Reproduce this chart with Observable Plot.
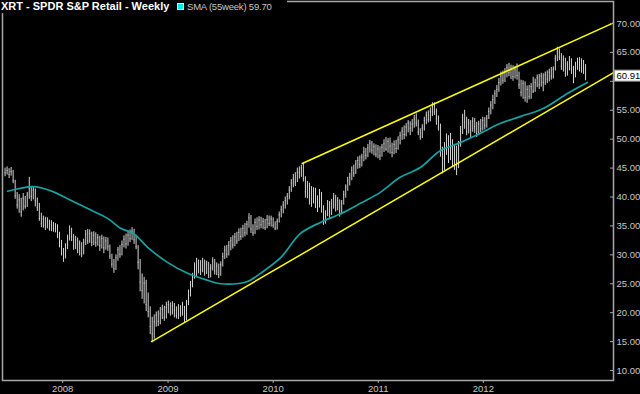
<!DOCTYPE html>
<html><head><meta charset="utf-8">
<script src="https://cdn.jsdelivr.net/npm/d3@7"></script>
<script src="https://cdn.jsdelivr.net/npm/@observablehq/plot@0.6"></script>
<style>
html,body{margin:0;padding:0;background:#000;}
#wrap{position:relative;width:640px;height:394px;background:#000;overflow:hidden;}
#hdr{position:absolute;left:0;top:0;width:287px;height:13px;background:#000;font-family:"Liberation Sans",Arial,sans-serif;white-space:nowrap;}
#title{position:absolute;left:1px;top:0;font-weight:bold;font-size:11px;line-height:13px;color:#fff;}
#leg{position:absolute;left:177px;top:0;font-size:9.5px;line-height:13px;color:#c8c8c8;letter-spacing:-0.2px;}
#leg .sw{display:inline-block;width:5px;height:5px;background:#00e8e8;border:1px solid #aaffff;margin-right:3px;vertical-align:0px;}
</style></head>
<body>
<div id="wrap">
  <div id="hdr"><span id="title"></span><span id="leg"><span class="sw"></span><span id="legtxt"></span></span></div>
</div>
<script>
const titleText = "XRT - SPDR S&P Retail - Weekly";
const smaLabel = "SMA (55week)";
const smaLast = 59.70;
const lastClose = 60.91;
const firstWeek = "2007-06-15";

const high = [
45.0,45.2,44.9,45.1,44.6,42.9,40.8,40.4,39.8,40.6,
40.1,40.8,43.4,41.8,41.7,41.4,39.8,38.9,37.2,36.7,
36.5,36.4,36.0,35.9,35.6,35.4,35.2,33.9,32.5,31.1,
31.9,33.4,35.0,34.6,33.5,33.2,32.9,32.4,32.1,32.7,
34.2,34.4,34.3,33.9,34.0,33.8,33.5,33.2,33.4,33.1,
33.0,32.9,31.7,30.1,29.2,30.0,31.3,31.6,32.4,33.3,
33.6,34.0,34.3,34.7,34.4,33.2,31.6,29.2,26.7,26.1,
25.6,23.4,21.0,19.2,19.6,20.1,20.3,20.9,21.3,21.1,
21.8,22.0,21.7,21.9,21.6,21.0,21.4,21.2,21.8,21.1,
22.1,23.9,25.4,26.8,28.6,29.4,29.1,29.0,29.4,29.1,
28.9,28.7,28.3,29.5,29.2,28.6,28.4,28.8,30.3,31.5,
31.6,32.3,33.0,33.3,33.7,33.9,34.5,34.6,35.1,35.4,
35.8,37.1,36.8,35.2,36.2,36.4,36.6,36.5,36.3,36.1,
36.8,36.7,36.7,36.4,35.7,36.2,37.4,38.4,39.2,40.0,
40.6,41.8,43.0,43.9,44.2,45.0,45.2,45.5,45.9,43.5,
42.7,42.4,41.8,41.6,41.5,40.2,41.3,40.8,38.5,37.6,
39.4,39.2,39.6,40.6,40.3,39.9,39.5,39.4,41.0,42.1,
43.4,44.1,45.2,45.5,46.3,46.9,47.1,47.4,48.6,48.4,
49.1,49.8,49.6,49.2,49.0,48.9,48.7,49.1,49.9,50.3,
50.1,50.2,49.3,49.7,49.8,50.4,51.2,52.0,52.3,52.7,
53.2,53.0,53.4,54.1,54.4,53.3,51.8,52.5,53.8,54.7,
54.9,55.4,56.3,56.3,55.2,54.0,52.6,48.6,49.4,50.9,
50.6,51.0,49.9,49.1,48.8,49.6,52.2,54.3,55.0,53.8,
53.4,53.2,53.7,53.6,52.9,53.1,53.4,53.8,53.7,54.1,
55.4,56.5,57.6,58.4,59.3,60.5,61.6,61.8,62.2,62.9,
63.1,62.8,62.7,62.6,63.0,61.6,60.2,60.1,59.9,59.2,
59.3,59.6,60.7,60.4,61.1,61.2,61.4,61.3,61.6,61.8,
62.1,62.4,62.5,64.5,65.9,65.6,64.8,64.4,64.0,63.4,
64.3,63.9,62.6,63.3,64.0,64.1,63.9,63.6,62.9
];
const low = [
43.5,43.8,43.2,43.6,42.3,39.6,37.9,37.2,36.5,37.6,
37.9,38.2,39.6,39.2,39.5,38.3,37.5,35.8,34.7,34.6,
34.2,34.5,34.1,34.0,33.9,33.8,32.8,31.2,29.8,28.7,
29.3,30.9,32.4,32.3,30.8,30.9,30.2,29.8,29.5,30.0,
31.6,31.8,32.0,31.4,31.6,31.3,31.5,30.6,31.0,30.2,
30.8,30.6,29.2,27.7,26.8,27.3,28.9,29.4,29.8,31.2,
31.0,31.5,32.1,32.5,31.8,30.9,27.4,23.6,22.3,21.5,
20.2,19.1,16.2,14.8,15.4,17.5,17.6,17.9,18.8,18.5,
18.9,19.8,19.4,19.6,19.1,18.9,18.8,19.2,19.4,18.3,
18.6,21.2,22.7,24.3,25.8,26.2,26.7,26.4,26.9,26.3,
26.6,25.9,26.0,27.2,26.5,26.4,25.9,26.3,27.9,29.2,
29.4,29.8,30.7,31.0,31.4,31.8,32.3,32.5,32.9,33.1,
33.4,34.6,33.7,33.2,33.5,34.2,34.3,34.5,34.4,34.2,
34.5,34.9,34.8,34.6,34.2,34.3,35.5,36.4,37.1,37.9,
38.6,39.5,40.8,41.6,41.8,42.5,43.1,43.4,42.6,39.8,
39.7,38.6,38.2,38.8,38.0,37.3,38.1,37.2,35.1,35.3,
36.6,36.1,36.8,37.9,37.4,37.6,36.5,36.9,38.6,39.8,
41.0,41.9,42.8,43.4,43.9,44.8,44.9,45.2,46.1,46.4,
46.8,47.6,47.4,47.1,46.8,46.6,46.3,46.9,47.7,47.9,
47.6,47.4,46.8,47.3,47.5,48.1,49.0,49.8,49.9,50.4,
51.1,50.6,51.2,51.9,52.1,50.6,49.8,50.1,51.4,52.5,
52.8,53.0,53.9,54.1,52.4,51.4,46.9,44.0,44.6,47.2,
45.8,46.3,45.1,44.6,43.7,44.9,48.6,50.8,51.7,50.6,
50.9,50.3,51.2,51.0,50.3,50.6,51.1,51.4,51.6,51.9,
53.4,54.2,55.1,56.0,57.2,58.1,59.2,59.5,59.8,60.6,
60.8,60.3,60.0,60.4,60.2,58.6,57.3,56.9,56.4,56.2,
56.8,56.9,57.9,58.1,58.9,58.6,59.0,58.2,59.3,59.6,
59.9,60.2,60.4,61.8,63.4,63.6,61.9,61.6,60.7,60.9,
61.8,61.2,59.6,60.6,61.9,61.6,61.4,61.2,60.1
];
const close = [
44.2,44.6,43.9,44.4,42.8,40.2,38.6,39.5,37.4,39.8,
38.4,40.3,41.5,40.1,41.2,39.4,38.2,36.3,35.4,36.2,
35.1,35.8,34.6,35.2,34.5,34.9,33.6,31.8,30.4,29.6,
31.2,32.8,34.2,33.1,31.5,32.6,30.8,31.9,30.2,32.1,
33.5,32.4,33.7,32.2,33.4,32.1,33.0,31.6,32.8,31.2,
32.4,31.4,29.8,28.4,27.6,29.5,30.9,30.1,31.8,32.7,
31.9,33.4,32.8,34.1,32.6,31.4,28.7,25.3,23.8,25.1,
21.4,20.2,17.6,16.3,18.4,19.6,18.5,19.8,20.6,19.2,
20.9,21.4,20.1,21.2,20.4,19.5,20.8,19.9,21.3,18.9,
21.6,23.2,24.8,26.1,27.9,27.3,28.6,27.4,28.8,27.0,
28.4,26.5,27.7,28.9,27.2,28.1,26.6,28.3,29.7,30.8,
30.1,31.6,32.4,31.7,33.1,32.4,33.9,33.2,34.6,33.8,
35.3,36.4,34.5,33.8,35.6,34.9,36.0,35.2,35.8,34.7,
36.1,35.4,36.2,35.1,34.6,35.8,36.9,37.8,38.6,39.4,
40.1,41.2,42.4,43.1,42.6,44.3,44.2,45.0,43.2,40.9,
41.9,40.2,39.6,41.0,39.1,38.4,40.6,38.2,36.4,37.1,
38.8,37.4,38.9,39.8,38.6,39.4,37.6,38.9,40.4,41.6,
42.8,43.4,44.6,44.1,45.7,46.3,45.6,46.9,47.8,47.2,
48.5,49.3,48.1,48.7,47.4,48.3,47.1,48.6,49.2,48.3,
49.6,48.8,47.7,49.1,48.4,49.9,50.6,51.4,50.8,52.1,
52.8,51.9,52.6,53.5,52.8,51.2,50.4,51.9,53.2,54.1,
53.4,54.8,55.6,54.7,53.6,52.1,47.8,45.6,48.3,50.1,
47.2,49.6,46.4,48.2,45.1,48.9,51.4,53.6,52.9,51.4,
52.8,51.6,53.1,52.2,51.0,52.6,51.8,53.2,52.4,53.6,
54.8,55.9,56.8,57.9,58.6,59.8,60.9,60.2,61.6,62.4,
61.5,62.3,60.8,62.1,61.0,59.4,58.1,59.6,57.2,58.6,
57.4,59.1,58.3,59.8,60.6,59.4,60.9,59.8,61.1,60.4,
61.6,60.9,62.1,63.9,65.1,64.2,62.6,63.8,61.4,62.8,
63.7,62.1,61.0,62.7,63.5,62.3,63.4,62.4,60.91
];

const smaDates = ["2007-06-24","2007-09-22","2007-11-19","2008-01-18","2008-03-28","2008-06-05","2008-07-20","2008-09-03","2008-10-22","2008-12-30","2009-03-10","2009-05-18","2009-07-02","2009-10-04","2009-11-18","2010-01-27","2010-04-06","2010-06-14","2010-08-23","2010-10-31","2011-01-08","2011-03-18","2011-05-27","2011-08-04","2011-10-13","2011-12-21","2012-02-28","2012-05-08","2012-07-27","2012-10-19","2012-12-27"];
const smaValues = [41.0,41.8,41.1,39.7,38.0,36.3,34.6,33.7,31.3,28.7,26.8,25.6,25.0,25.4,26.8,29.5,33.7,35.6,37.1,38.9,40.8,43.4,45.1,48.0,49.4,51.0,52.7,53.9,55.3,57.9,59.8];

const upperDates = ["2010-04-12","2013-03-28"];
const upperValues = [45.8,70.1];
const lowerDates = ["2008-11-05","2013-03-28"];
const lowerValues = [15.0,61.5];

const yearLabels = ["2008","2009","2010","2011","2012"];
const priceTicks = [10,15,20,25,30,35,40,45,50,55,60,65,70];
const priceLabels = [10,15,20,25,30,35,40,45,50,55,65,70];

document.getElementById("title").textContent = titleText;
document.getElementById("legtxt").textContent = smaLabel + " " + smaLast.toFixed(2);

const start = new Date(firstWeek + "T00:00:00Z");
const bars = close.map((c, i) => ({date: d3.utcDay.offset(start, 7 * i), high: high[i], low: low[i], close: c}));
const sma = smaDates.map((d, i) => ({date: new Date(d + "T00:00:00Z"), value: smaValues[i]}));
const upper = upperDates.map((d, i) => ({date: new Date(d + "T00:00:00Z"), value: upperValues[i]}));
const lower = lowerDates.map((d, i) => ({date: new Date(d + "T00:00:00Z"), value: lowerValues[i]}));
const yearTicks = yearLabels.map(y => new Date(y + "-01-01T00:00:00Z"));

const chart = Plot.plot({
  width: 640, height: 394,
  marginLeft: 2, marginRight: 27, marginTop: 1, marginBottom: 14,
  style: {background: "#000", color: "#c8c8c8", fontFamily: "'Liberation Sans', Arial, sans-serif", fontSize: "9.5px"},
  x: {type: "utc", domain: [new Date("2007-06-06T00:00:00Z"), new Date("2013-03-28T00:00:00Z")]},
  y: {domain: [8.271, 73.805]},
  marks: [
    Plot.ruleX(bars, {x: "date", y1: "low", y2: "high", stroke: "#d4d4d4", strokeWidth: 1}),
    Plot.ruleY(bars, {x1: "date", x2: d => d3.utcDay.offset(d.date, 3), y: "close", stroke: "#d4d4d4", strokeWidth: 1}),
    Plot.line(sma, {x: "date", y: "value", stroke: "#16a3a3", strokeWidth: 1.7, curve: "catmull-rom"}),
    Plot.line(upper, {x: "date", y: "value", stroke: "#ffff00", strokeWidth: 1.5}),
    Plot.line(lower, {x: "date", y: "value", stroke: "#ffff00", strokeWidth: 1.5}),
    Plot.frame({stroke: "#a8a8a8", strokeWidth: 1.5}),
    Plot.axisX({ticks: yearTicks, tickFormat: "%Y", tickSize: 3, tickPadding: 2, label: null, stroke: "#a8a8a8"}),
    Plot.axisY({anchor: "right", ticks: priceTicks, tickSize: 4, dx: -4, tickFormat: () => "", label: null, stroke: "#a8a8a8"}),
    Plot.axisY({anchor: "right", ticks: priceLabels, tickSize: 0, tickPadding: 3, tickFormat: d => d.toFixed(2), label: null}),
    Plot.text([lastClose], {y: d => d, frameAnchor: "right", dx: 3, textAnchor: "start", text: d => d.toFixed(2), fill: "#000", fontSize: 9.5})
  ]
});
document.getElementById("wrap").insertBefore(chart, document.getElementById("hdr"));

const lbl = [...chart.querySelectorAll("text")].find(t => t.textContent === lastClose.toFixed(2) && t.closest("g") && t.closest("g").getAttribute("aria-label") === "text");
if (lbl) {
  const bb = lbl.getBBox();
  const ctm = lbl.getAttribute("transform");
  const r = document.createElementNS("http://www.w3.org/2000/svg", "rect");
  r.setAttribute("x", bb.x - 2); r.setAttribute("y", bb.y);
  r.setAttribute("width", bb.width + 3); r.setAttribute("height", bb.height);
  r.setAttribute("fill", "#fff"); r.setAttribute("stroke", "#999");
  if (ctm) r.setAttribute("transform", ctm);
  lbl.parentNode.insertBefore(r, lbl);
}
</script>
</body></html>
